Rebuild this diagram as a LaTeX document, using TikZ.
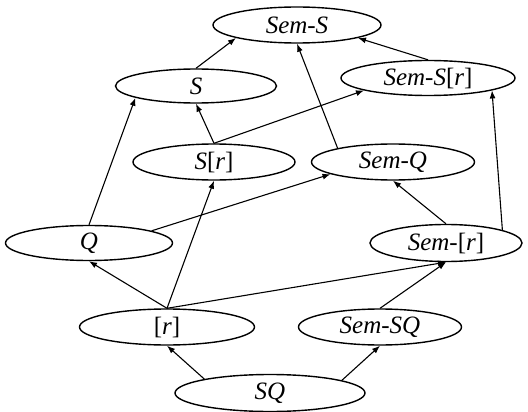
\documentclass[tikz,border=0pt]{standalone}
\usepackage{fontspec}
\setmainfont{Liberation Serif}
\usetikzlibrary{shapes.geometric,arrows.meta}
\newcommand{\ub}[1]{{\upshape #1}}
\begin{document}
\begin{tikzpicture}[x=1pt,y=-1pt,
  el/.style={draw,ellipse,line width=1.4pt,inner sep=0pt,font=\fontsize{25}{28}\selectfont\itshape},
  arr/.style={-{Latex[length=8pt,width=6pt]},line width=1.1pt}]
\useasboundingbox (0,0) rectangle (528,412);
\node[el,minimum width=168pt,minimum height=36pt] (SemS) at (297,25) {Sem-S};
\node[el,minimum width=161pt,minimum height=34pt] (S) at (196,86) {S};
\node[el,minimum width=174pt,minimum height=35pt] (SemSr) at (428,78) {Sem-S\ub{[}r\ub{]}};
\node[el,minimum width=162pt,minimum height=36pt] (Sr) at (214,162) {S\ub{[}r\ub{]}};
\node[el,minimum width=163pt,minimum height=36pt] (SemQ) at (393,162) {Sem-Q};
\node[el,minimum width=167pt,minimum height=35pt] (Q) at (89,243) {Q};
\node[el,minimum width=152pt,minimum height=37pt] (SemR) at (446,243) {Sem-\ub{[}r\ub{]}};
\node[el,minimum width=175pt,minimum height=36pt] (R) at (167,327) {\ub{[}r\ub{]}};
\node[el,minimum width=163pt,minimum height=36pt] (SemSQ) at (380,327) {Sem-SQ};
\node[el,minimum width=190pt,minimum height=37pt] (SQ) at (270,393) {SQ};
\draw[arr] (S.north) -- (SemS.192);
\draw[arr] (SemSr.north) -- (SemS.348.5);
\draw[arr] (SemQ.166.8) -- (SemS.south);
\draw[arr] (Sr.north) -- (S.south);
\draw[arr] (Sr.north) -- (SemSr.191.6);
\draw[arr] (Q.north) -- (S.191.9);
\draw[arr] (SemR.13.1) -- (SemSr.349.5);
\draw[arr] (Q.11) -- (SemQ.191.5);
\draw[arr] (SemR.north) -- (SemQ.south);
\draw[arr] (R.north) -- (Sr.south);
\draw[arr] (R.north) -- (Q.south);
\draw[arr] (R.north) -- (SemR.south);
\draw[arr] (SemSQ.north) -- (SemR.south);
\draw[arr] (SQ.168.9) -- (R.south);
\draw[arr] (SQ.10.7) -- (SemSQ.south);
\end{tikzpicture}
\end{document}
